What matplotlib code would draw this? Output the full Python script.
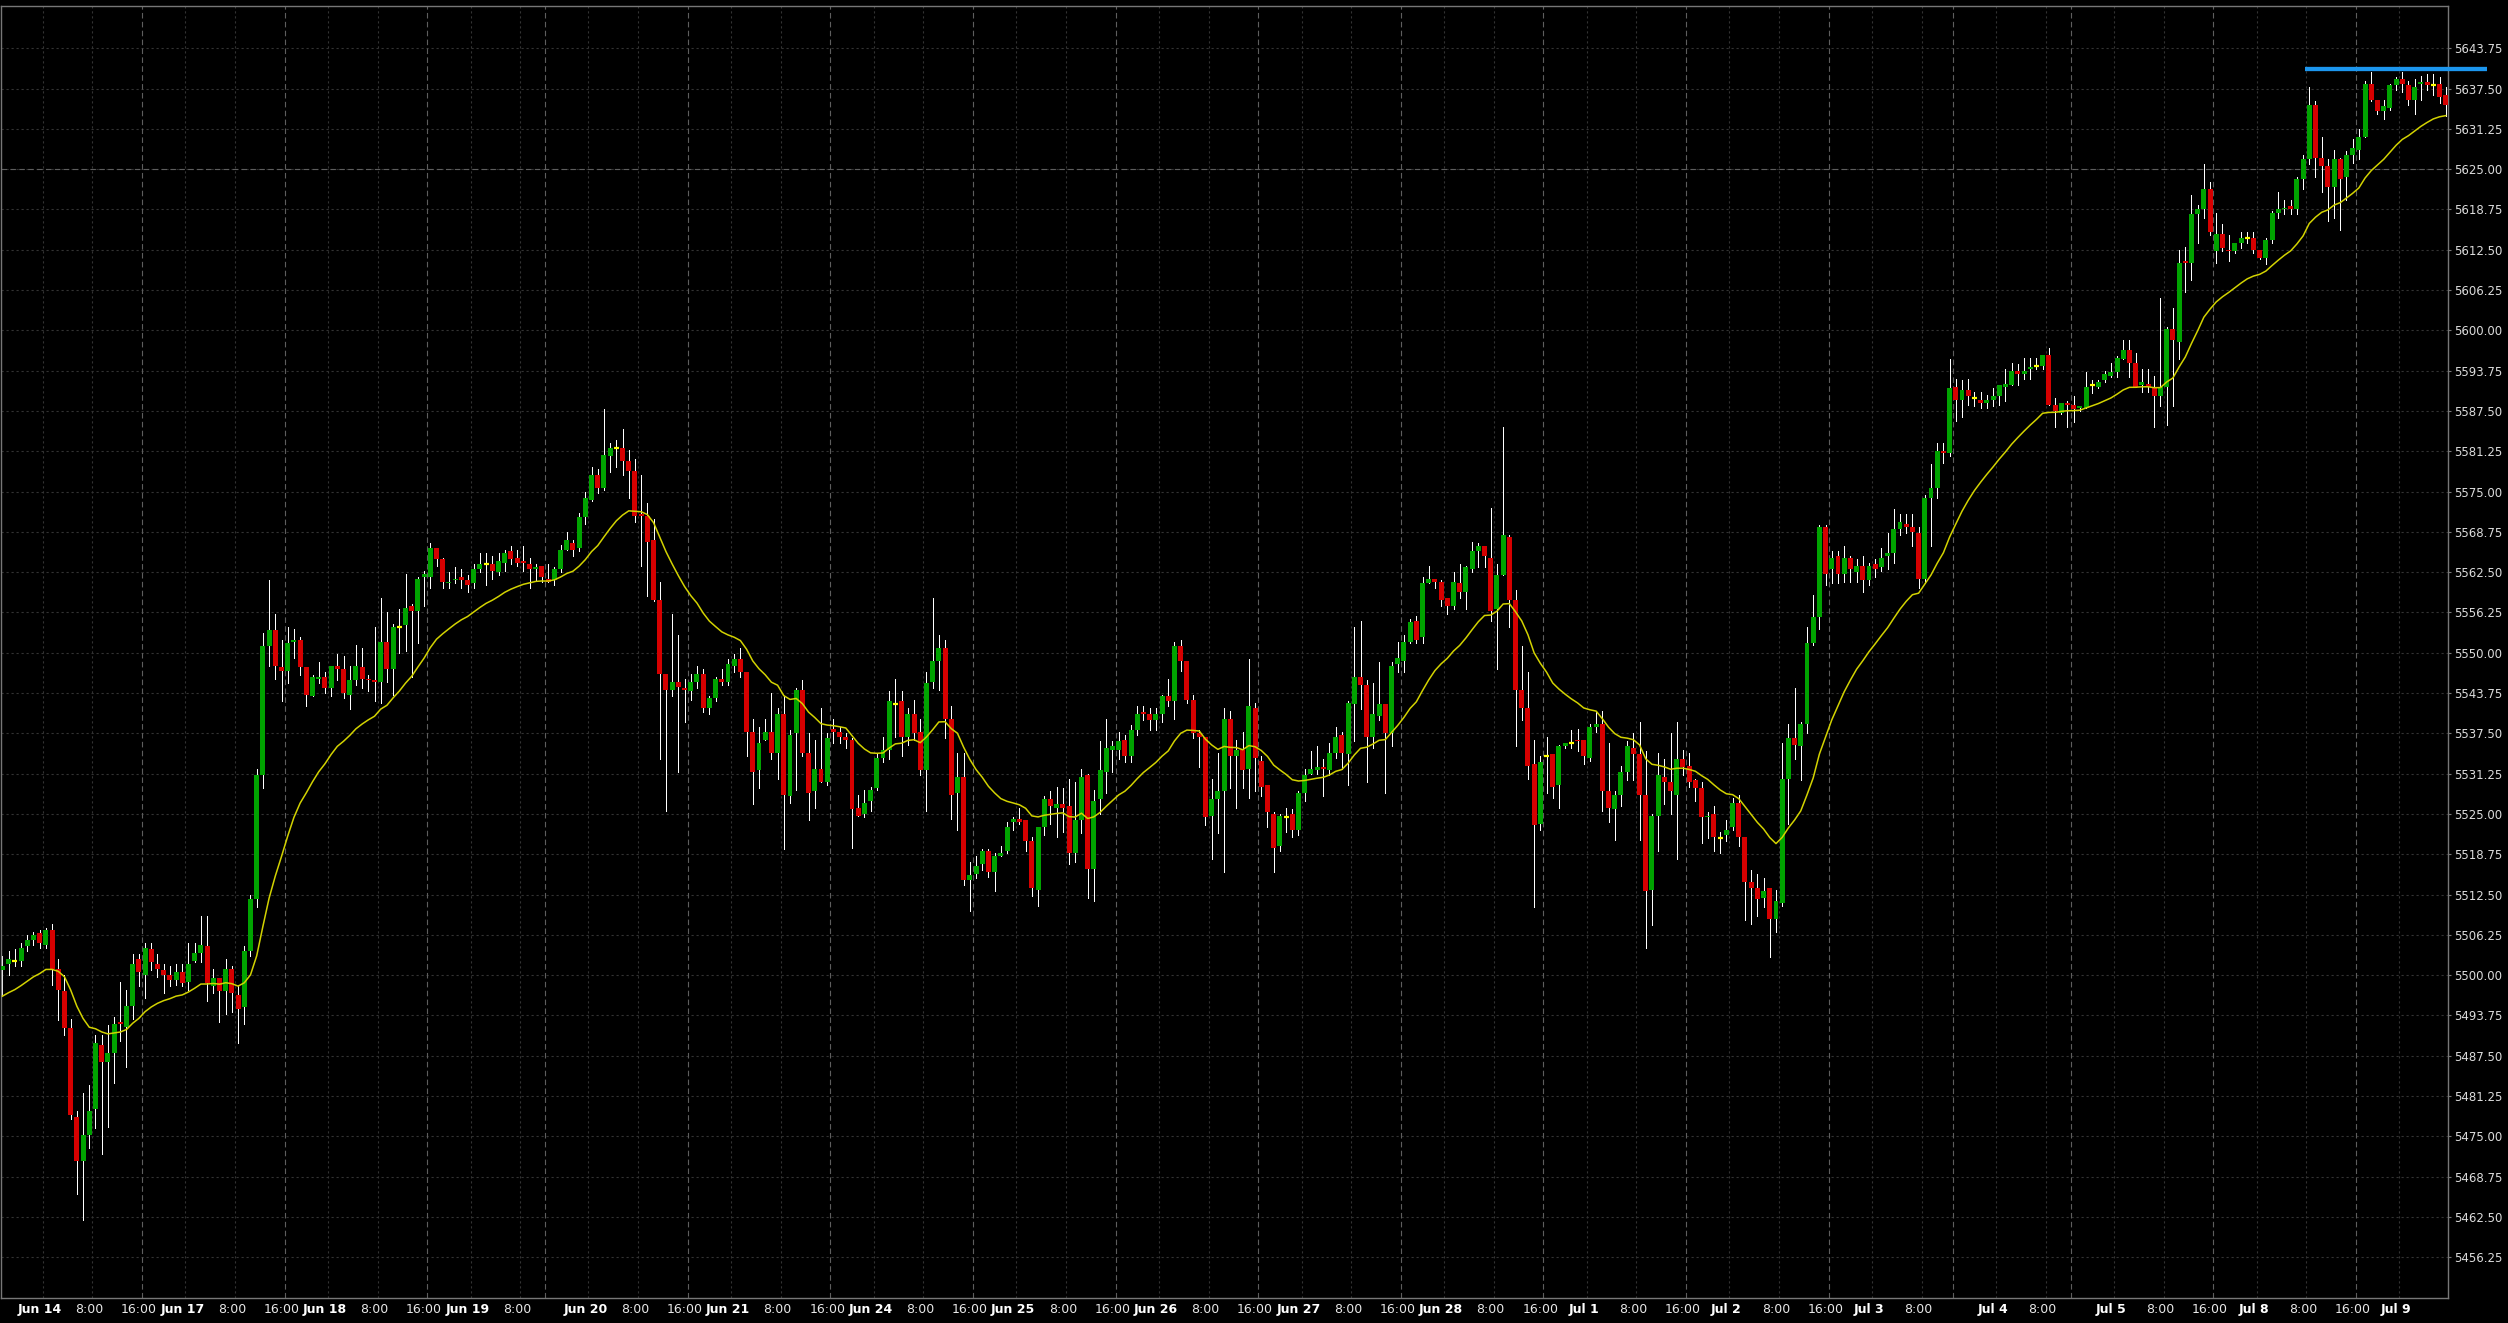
import numpy as np
import pandas as pd
import matplotlib
matplotlib.use("Agg")
import matplotlib.pyplot as plt

# hourly bars, left to right (one value per bar)
OPEN = [
    5500.75, 5501.75, 5502.25, 5502.25, 5504.5, 5505.5, 5506.5, 5504.75, 5507.0, 5501.0,
    5497.5, 5491.75, 5478.0, 5471.25, 5475.25, 5479.25, 5489.25, 5486.5, 5488.0, 5492.75,
    5492.0, 5495.25, 5502.5, 5500.0, 5504.0, 5501.75, 5500.75, 5500.0, 5499.25, 5500.5,
    5499.0, 5502.25, 5503.5, 5504.5, 5498.25, 5499.5, 5497.5, 5501.0, 5497.0, 5495.0,
    5503.75, 5511.75, 5531.0, 5551.0, 5553.5, 5547.75, 5547.25, 5551.75, 5552.0, 5547.75,
    5543.25, 5546.0, 5546.25, 5544.5, 5548.0, 5547.5, 5543.5, 5545.75, 5547.75, 5546.0,
    5545.75, 5545.5, 5551.75, 5547.5, 5554.0, 5554.25, 5557.25, 5556.5, 5561.75, 5561.75,
    5566.25, 5564.5, 5560.75, 5561.25, 5561.75, 5561.25, 5560.75, 5563.0, 5563.75, 5563.75,
    5562.5, 5564.0, 5565.75, 5564.75, 5564.25, 5563.75, 5563.0, 5563.5, 5561.5, 5561.25,
    5563.0, 5566.0, 5567.0, 5566.25, 5571.0, 5573.75, 5577.5, 5575.5, 5580.5, 5581.75,
    5581.75, 5579.75, 5578.25, 5571.5, 5571.25, 5567.5, 5558.25, 5546.75, 5544.25, 5545.5,
    5544.5, 5544.0, 5545.5, 5546.75, 5541.5, 5543.0, 5546.0, 5545.5, 5548.0, 5549.0,
    5547.0, 5537.75, 5531.75, 5536.5, 5537.75, 5534.5, 5540.5, 5527.75, 5537.5, 5544.25,
    5534.5, 5528.5, 5532.0, 5530.0, 5538.25, 5537.75, 5537.0, 5536.5, 5526.0, 5525.0,
    5527.0, 5529.0, 5533.75, 5535.0, 5542.0, 5542.5, 5537.0, 5540.5, 5537.75, 5531.75,
    5545.5, 5548.75, 5550.75, 5539.75, 5528.25, 5530.75, 5514.75, 5515.75, 5517.25, 5519.25,
    5516.0, 5518.5, 5519.25, 5523.75, 5524.25, 5524.0, 5520.75, 5513.25, 5523.0, 5527.25,
    5526.0, 5526.5, 5526.25, 5519.0, 5524.0, 5531.0, 5516.5, 5527.25, 5531.5, 5535.0,
    5535.0, 5536.5, 5534.0, 5538.0, 5540.75, 5540.5, 5539.5, 5540.5, 5543.25, 5542.5,
    5551.0, 5548.75, 5542.75, 5537.5, 5537.0, 5524.75, 5527.25, 5528.5, 5539.75, 5534.0,
    5535.0, 5532.0, 5541.5, 5533.25, 5529.5, 5525.0, 5520.0, 5524.5, 5525.0, 5522.5,
    5528.25, 5531.25, 5531.75, 5532.25, 5531.75, 5534.5, 5537.25, 5534.25, 5542.0, 5546.25,
    5545.0, 5537.0, 5540.25, 5542.0, 5537.5, 5548.25, 5548.75, 5551.75, 5555.0, 5552.5,
    5560.75, 5561.5, 5561.0, 5558.5, 5557.25, 5560.75, 5559.5, 5563.0, 5565.75, 5566.5,
    5564.75, 5556.75, 5562.0, 5568.0, 5558.25, 5544.25, 5541.5, 5532.75, 5523.5, 5534.0,
    5534.25, 5529.5, 5535.5, 5536.0, 5536.5, 5536.5, 5533.75, 5538.5, 5539.0, 5528.5,
    5525.75, 5528.0, 5531.5, 5535.25, 5534.25, 5528.0, 5513.25, 5524.75, 5530.75, 5530.0,
    5528.0, 5533.5, 5532.5, 5530.25, 5529.0, 5524.5, 5525.0, 5521.25, 5521.75, 5523.0,
    5526.75, 5521.5, 5514.5, 5513.5, 5512.0, 5513.5, 5508.75, 5511.25, 5530.5, 5536.75,
    5535.5, 5539.0, 5551.5, 5555.5, 5569.5, 5563.0, 5565.0, 5562.25, 5564.75, 5562.5,
    5563.5, 5561.25, 5563.75, 5563.25, 5565.0, 5565.5, 5569.25, 5570.0, 5569.5, 5568.5,
    5561.5, 5574.0, 5575.5, 5581.25, 5581.0, 5591.25, 5589.25, 5590.75, 5589.5, 5589.25,
    5588.75, 5589.25, 5589.75, 5591.25, 5591.5, 5593.75, 5593.25, 5594.0, 5594.5, 5594.5,
    5596.25, 5588.5, 5587.25, 5588.75, 5588.5, 5588.0, 5588.0, 5591.5, 5591.25, 5592.25,
    5593.0, 5593.5, 5595.5, 5597.0, 5595.0, 5591.5, 5591.75, 5591.25, 5589.75, 5591.25,
    5600.25, 5598.25, 5610.75, 5610.5, 5618.0, 5618.75, 5622.0, 5612.25, 5615.0, 5612.5,
    5612.25, 5613.5, 5614.25, 5614.25, 5612.5, 5611.25, 5614.0, 5618.25, 5618.75, 5619.25,
    5618.75, 5623.5, 5626.5, 5635.0, 5626.75, 5625.5, 5622.25, 5626.5, 5623.75, 5627.25,
    5628.0, 5630.0, 5638.25, 5635.75, 5634.0, 5634.5, 5638.0, 5639.0, 5638.0, 5635.75,
    5638.25, 5638.5, 5638.0, 5638.25, 5636.5,
]
HIGH = [
    5503.0, 5503.75, 5504.0, 5505.0, 5506.25, 5506.75, 5507.0, 5507.25, 5508.0, 5502.5,
    5500.0, 5493.25, 5479.0, 5481.75, 5483.0, 5490.75, 5490.75, 5492.25, 5493.5, 5499.0,
    5497.75, 5503.25, 5503.25, 5505.0, 5505.0, 5503.25, 5501.75, 5501.5, 5501.75, 5501.75,
    5505.0, 5505.0, 5509.25, 5509.25, 5501.0, 5499.5, 5502.5, 5501.5, 5498.5, 5504.5,
    5512.5, 5532.0, 5553.0, 5561.25, 5556.0, 5552.0, 5554.0, 5553.75, 5552.5, 5547.75,
    5546.5, 5548.5, 5547.0, 5548.0, 5549.75, 5549.5, 5548.0, 5551.25, 5550.75, 5546.5,
    5554.0, 5558.5, 5556.25, 5554.5, 5556.75, 5562.25, 5557.5, 5561.75, 5562.75, 5567.0,
    5566.25, 5564.75, 5562.5, 5563.25, 5563.0, 5562.0, 5563.75, 5565.5, 5565.5, 5565.0,
    5565.5, 5566.0, 5566.5, 5566.0, 5566.5, 5564.75, 5563.75, 5563.5, 5563.75, 5563.25,
    5566.75, 5568.75, 5567.5, 5571.75, 5575.0, 5578.75, 5578.5, 5587.75, 5582.5, 5583.0,
    5584.75, 5581.5, 5580.0, 5577.5, 5573.25, 5570.75, 5561.0, 5546.75, 5556.0, 5552.75,
    5546.0, 5546.75, 5548.0, 5547.5, 5543.25, 5546.25, 5547.5, 5549.0, 5549.75, 5550.75,
    5547.0, 5539.75, 5538.5, 5539.75, 5543.75, 5541.5, 5543.25, 5538.0, 5544.5, 5545.75,
    5537.5, 5536.5, 5541.5, 5537.5, 5539.75, 5538.5, 5537.5, 5536.75, 5528.0, 5528.75,
    5529.25, 5534.25, 5537.0, 5544.0, 5546.0, 5544.0, 5541.5, 5542.75, 5539.75, 5547.0,
    5558.5, 5552.75, 5552.0, 5541.75, 5534.5, 5534.5, 5517.5, 5518.5, 5519.5, 5519.5,
    5519.0, 5520.0, 5523.75, 5524.5, 5526.0, 5524.0, 5521.5, 5523.0, 5527.75, 5528.5,
    5529.25, 5529.0, 5530.5, 5530.0, 5532.0, 5531.25, 5528.75, 5536.25, 5539.75, 5536.25,
    5537.75, 5537.25, 5538.75, 5541.75, 5541.75, 5541.5, 5541.5, 5543.5, 5546.0, 5551.75,
    5552.0, 5548.75, 5543.5, 5538.0, 5537.0, 5530.5, 5534.5, 5541.5, 5541.0, 5536.5,
    5537.75, 5549.0, 5542.25, 5534.0, 5529.5, 5525.25, 5525.0, 5526.0, 5525.75, 5528.5,
    5532.0, 5534.75, 5535.5, 5533.5, 5536.0, 5538.5, 5537.75, 5542.5, 5554.0, 5555.0,
    5545.75, 5545.25, 5548.5, 5542.0, 5548.5, 5551.75, 5552.75, 5555.25, 5555.75, 5561.75,
    5563.5, 5561.5, 5561.25, 5558.5, 5562.5, 5563.75, 5563.5, 5567.25, 5567.0, 5566.5,
    5572.5, 5563.75, 5585.0, 5568.25, 5559.75, 5551.0, 5547.0, 5536.5, 5534.0, 5537.0,
    5534.25, 5535.75, 5536.0, 5538.0, 5538.25, 5536.5, 5539.0, 5540.75, 5541.0, 5536.0,
    5528.5, 5532.5, 5536.25, 5537.5, 5539.25, 5534.75, 5525.0, 5534.5, 5533.5, 5537.5,
    5539.25, 5535.0, 5534.5, 5530.5, 5530.0, 5525.25, 5526.25, 5522.25, 5524.0, 5527.5,
    5528.0, 5521.5, 5516.25, 5515.75, 5515.0, 5513.5, 5513.25, 5536.0, 5539.0, 5544.5,
    5539.25, 5554.0, 5559.0, 5569.75, 5569.75, 5565.75, 5565.75, 5566.5, 5565.0, 5564.5,
    5565.0, 5564.0, 5564.5, 5566.25, 5568.5, 5572.25, 5571.5, 5571.5, 5571.5, 5569.5,
    5574.5, 5579.25, 5582.5, 5582.5, 5595.5, 5592.5, 5592.25, 5592.5, 5590.5, 5590.5,
    5590.0, 5591.0, 5591.5, 5594.0, 5595.0, 5594.75, 5595.75, 5595.75, 5595.75, 5596.25,
    5597.25, 5589.5, 5588.75, 5589.0, 5589.75, 5588.25, 5593.5, 5592.25, 5592.25, 5593.75,
    5595.0, 5596.0, 5598.5, 5598.5, 5596.5, 5594.0, 5594.0, 5593.0, 5605.0, 5600.5,
    5603.5, 5612.5, 5613.0, 5621.0, 5619.5, 5625.75, 5623.0, 5618.25, 5616.5, 5614.75,
    5613.5, 5615.25, 5615.25, 5615.25, 5612.5, 5614.25, 5618.5, 5621.5, 5620.25, 5620.25,
    5623.75, 5627.25, 5637.75, 5635.5, 5630.0, 5626.5, 5628.0, 5626.75, 5627.75, 5629.75,
    5631.25, 5638.75, 5640.0, 5635.75, 5635.75, 5638.25, 5639.25, 5640.0, 5638.75, 5639.0,
    5639.5, 5639.75, 5639.75, 5639.25, 5637.75,
]
LOW = [
    5496.75, 5500.0, 5501.5, 5501.5, 5503.75, 5504.75, 5504.25, 5504.25, 5498.5, 5493.0,
    5490.75, 5477.75, 5466.0, 5462.0, 5473.25, 5476.25, 5472.25, 5476.5, 5483.25, 5489.75,
    5485.75, 5493.25, 5498.25, 5496.5, 5500.75, 5499.75, 5497.25, 5498.25, 5498.5, 5498.25,
    5497.75, 5502.0, 5502.0, 5496.0, 5497.25, 5492.75, 5494.0, 5494.25, 5489.5, 5492.5,
    5503.0, 5510.5, 5529.0, 5548.0, 5546.0, 5542.5, 5545.25, 5549.25, 5546.5, 5541.75,
    5543.25, 5545.25, 5543.75, 5543.25, 5545.75, 5543.0, 5541.25, 5545.0, 5544.5, 5544.0,
    5542.5, 5542.25, 5545.5, 5543.5, 5550.0, 5550.25, 5546.25, 5551.5, 5557.25, 5560.0,
    5563.5, 5560.0, 5560.0, 5560.75, 5560.0, 5559.5, 5560.0, 5562.5, 5560.5, 5561.5,
    5562.0, 5562.75, 5563.75, 5563.5, 5562.75, 5560.0, 5561.25, 5561.0, 5561.0, 5560.5,
    5562.5, 5566.0, 5565.0, 5565.75, 5570.0, 5573.5, 5574.75, 5575.25, 5578.0, 5578.75,
    5577.5, 5574.0, 5570.25, 5563.5, 5558.75, 5558.0, 5533.5, 5525.5, 5543.25, 5531.5,
    5539.25, 5542.75, 5544.5, 5540.75, 5540.5, 5542.5, 5545.0, 5545.0, 5547.0, 5546.25,
    5534.0, 5526.5, 5529.0, 5536.5, 5533.5, 5530.5, 5519.5, 5526.75, 5528.75, 5534.0,
    5524.0, 5526.0, 5530.0, 5529.5, 5536.0, 5536.0, 5535.25, 5519.75, 5524.75, 5524.5,
    5525.5, 5528.75, 5533.0, 5533.5, 5537.0, 5534.0, 5535.75, 5536.5, 5531.0, 5525.5,
    5544.5, 5544.25, 5536.75, 5524.25, 5522.5, 5514.0, 5510.0, 5515.0, 5516.25, 5515.25,
    5513.0, 5518.5, 5519.0, 5522.5, 5523.5, 5519.25, 5512.25, 5510.75, 5521.75, 5523.5,
    5521.5, 5522.25, 5517.25, 5517.5, 5522.0, 5512.0, 5511.5, 5525.0, 5528.25, 5531.5,
    5533.5, 5533.0, 5533.0, 5537.25, 5539.5, 5538.0, 5538.0, 5539.25, 5541.75, 5539.75,
    5547.25, 5542.25, 5536.75, 5532.25, 5523.25, 5518.0, 5522.0, 5516.0, 5529.0, 5526.0,
    5529.0, 5527.5, 5528.5, 5527.75, 5523.0, 5516.0, 5519.25, 5522.25, 5521.5, 5521.75,
    5527.0, 5531.25, 5531.25, 5527.75, 5531.0, 5533.75, 5532.0, 5529.5, 5536.25, 5541.25,
    5530.0, 5535.25, 5539.5, 5528.25, 5535.5, 5547.0, 5547.0, 5551.5, 5551.5, 5551.5,
    5560.75, 5560.0, 5557.25, 5556.0, 5556.75, 5558.5, 5556.75, 5562.5, 5563.25, 5563.25,
    5555.0, 5547.5, 5562.0, 5554.0, 5535.5, 5539.5, 5530.5, 5510.5, 5522.5, 5528.25,
    5527.5, 5526.0, 5535.25, 5535.25, 5534.75, 5532.75, 5533.25, 5537.75, 5525.5, 5523.75,
    5521.0, 5526.25, 5530.25, 5530.25, 5521.0, 5504.25, 5507.75, 5519.25, 5526.5, 5525.0,
    5518.0, 5531.0, 5529.25, 5527.0, 5520.5, 5521.25, 5519.25, 5519.0, 5520.75, 5522.5,
    5520.0, 5508.5, 5508.0, 5509.25, 5510.5, 5502.75, 5506.75, 5510.75, 5523.5, 5533.5,
    5530.25, 5537.5, 5551.25, 5553.75, 5560.5, 5560.75, 5560.75, 5561.0, 5561.0, 5561.0,
    5559.5, 5560.5, 5561.75, 5562.75, 5563.0, 5564.0, 5568.25, 5568.5, 5566.5, 5560.0,
    5560.75, 5566.5, 5574.0, 5579.5, 5580.5, 5586.0, 5586.5, 5588.5, 5588.25, 5588.0,
    5588.0, 5588.25, 5588.5, 5589.0, 5591.5, 5591.5, 5592.5, 5592.5, 5594.0, 5594.0,
    5588.5, 5585.0, 5587.0, 5585.0, 5585.75, 5587.5, 5588.0, 5590.25, 5591.0, 5592.0,
    5592.75, 5592.75, 5595.5, 5592.75, 5591.25, 5590.5, 5590.5, 5585.0, 5588.25, 5585.25,
    5588.25, 5595.5, 5606.0, 5607.75, 5613.5, 5617.5, 5614.75, 5610.5, 5612.25, 5610.75,
    5612.0, 5612.75, 5613.5, 5612.0, 5611.0, 5610.25, 5613.5, 5617.5, 5618.0, 5618.0,
    5618.0, 5622.0, 5625.75, 5623.75, 5621.5, 5617.0, 5617.5, 5615.5, 5620.25, 5626.0,
    5626.5, 5630.0, 5635.5, 5633.5, 5632.75, 5634.25, 5637.25, 5637.0, 5635.0, 5633.5,
    5635.75, 5637.25, 5636.5, 5635.25, 5633.25,
]
CLOSE = [
    5501.5, 5502.5, 5502.25, 5504.25, 5505.5, 5506.25, 5505.0, 5507.0, 5501.0, 5497.75,
    5491.75, 5478.25, 5471.25, 5475.25, 5479.0, 5489.5, 5486.5, 5488.0, 5492.5, 5492.5,
    5495.25, 5501.75, 5500.5, 5504.25, 5502.0, 5501.0, 5500.0, 5499.25, 5500.5, 5498.75,
    5501.75, 5503.5, 5504.75, 5498.75, 5499.5, 5497.5, 5501.0, 5497.25, 5494.75, 5503.75,
    5511.75, 5531.0, 5551.0, 5553.5, 5548.0, 5547.25, 5551.5, 5552.0, 5547.75, 5543.5,
    5546.25, 5546.25, 5544.5, 5548.0, 5547.5, 5543.75, 5545.75, 5548.0, 5546.0, 5545.75,
    5545.5, 5551.75, 5547.5, 5554.0, 5554.0, 5557.0, 5556.5, 5561.5, 5562.25, 5566.25,
    5564.5, 5561.0, 5561.0, 5561.5, 5561.25, 5560.5, 5563.0, 5563.75, 5563.75, 5562.75,
    5564.25, 5565.5, 5564.5, 5564.0, 5564.0, 5563.0, 5563.25, 5561.75, 5561.0, 5563.0,
    5566.0, 5567.5, 5566.0, 5571.0, 5574.0, 5577.5, 5575.5, 5580.75, 5581.75, 5581.75,
    5579.75, 5578.25, 5571.25, 5571.25, 5567.25, 5558.25, 5546.75, 5544.25, 5545.5, 5544.75,
    5544.25, 5545.5, 5546.75, 5541.5, 5543.0, 5546.0, 5545.5, 5548.25, 5549.0, 5547.0,
    5537.75, 5531.5, 5536.0, 5537.75, 5534.5, 5540.5, 5528.0, 5537.25, 5544.25, 5534.5,
    5528.25, 5532.0, 5530.0, 5536.75, 5537.75, 5537.0, 5536.5, 5525.75, 5524.75, 5526.75,
    5528.75, 5533.75, 5535.0, 5542.5, 5542.0, 5537.0, 5540.5, 5537.5, 5531.75, 5545.25,
    5548.75, 5550.75, 5539.75, 5528.0, 5530.75, 5514.75, 5515.5, 5517.0, 5519.25, 5516.0,
    5518.5, 5519.0, 5523.0, 5524.25, 5523.75, 5520.75, 5513.5, 5523.0, 5527.25, 5526.25,
    5526.5, 5526.0, 5519.0, 5524.0, 5530.75, 5516.5, 5527.0, 5531.75, 5535.25, 5535.5,
    5536.25, 5534.0, 5538.0, 5540.5, 5540.5, 5539.5, 5540.5, 5543.25, 5542.5, 5551.0,
    5548.75, 5542.75, 5537.5, 5537.0, 5524.5, 5527.25, 5528.5, 5539.75, 5534.0, 5535.0,
    5531.75, 5541.75, 5533.75, 5529.25, 5525.25, 5519.75, 5524.75, 5524.5, 5522.5, 5528.25,
    5531.0, 5532.0, 5532.25, 5532.0, 5534.5, 5537.0, 5534.5, 5542.25, 5546.25, 5545.0,
    5537.0, 5540.5, 5542.0, 5537.5, 5548.0, 5549.25, 5551.75, 5554.75, 5552.0, 5560.75,
    5561.5, 5561.0, 5558.25, 5557.25, 5561.0, 5559.5, 5563.25, 5565.75, 5566.5, 5565.0,
    5556.5, 5562.0, 5568.25, 5558.25, 5544.25, 5541.5, 5532.5, 5523.25, 5533.0, 5534.0,
    5529.25, 5535.5, 5536.0, 5536.0, 5536.25, 5534.0, 5538.5, 5539.0, 5528.5, 5526.0,
    5528.0, 5531.5, 5535.5, 5534.25, 5528.0, 5513.0, 5524.75, 5531.0, 5530.0, 5528.5,
    5533.5, 5532.25, 5530.0, 5529.0, 5524.5, 5524.75, 5521.5, 5521.25, 5522.5, 5526.75,
    5521.5, 5514.5, 5513.5, 5511.75, 5513.0, 5508.75, 5511.5, 5530.5, 5536.75, 5535.75,
    5539.0, 5551.5, 5555.5, 5569.5, 5562.25, 5564.75, 5562.25, 5564.75, 5563.0, 5563.5,
    5561.25, 5563.5, 5563.0, 5564.75, 5565.5, 5569.25, 5570.25, 5569.5, 5568.75, 5561.5,
    5574.0, 5575.5, 5581.25, 5581.0, 5591.0, 5589.25, 5590.75, 5589.75, 5589.5, 5588.75,
    5589.25, 5589.75, 5591.5, 5591.75, 5593.75, 5593.25, 5593.75, 5594.25, 5594.5, 5596.25,
    5588.5, 5587.5, 5588.75, 5588.5, 5587.75, 5588.25, 5591.25, 5591.5, 5592.0, 5593.25,
    5593.5, 5595.75, 5597.0, 5595.0, 5591.25, 5592.0, 5591.25, 5589.75, 5591.25, 5600.25,
    5598.5, 5610.5, 5610.5, 5618.0, 5618.75, 5622.0, 5615.25, 5615.0, 5612.75, 5612.25,
    5613.5, 5614.25, 5614.25, 5612.5, 5611.25, 5614.0, 5618.25, 5618.75, 5619.0, 5618.75,
    5623.5, 5626.5, 5635.0, 5626.75, 5625.5, 5622.25, 5626.5, 5623.5, 5627.25, 5628.25,
    5630.0, 5638.25, 5635.75, 5634.0, 5634.75, 5638.0, 5639.0, 5638.25, 5635.75, 5637.75,
    5638.5, 5638.0, 5638.0, 5636.25, 5635.0,
]

# yellow line: 20 bar EMA of the closes, its value at the first bar
EMA_SPAN = 20
EMA_FIRST = 5496.75

# time axis labels (bar index of the labelled bar)
TICK_BARS = [6, 14, 22, 29, 37, 45, 52, 60, 68, 75, 83, 94, 102, 110, 117, 125, 133,
             140, 148, 156, 163, 171, 179, 186, 194, 202, 209, 217, 225, 232, 240, 248,
             255, 263, 271, 278, 286, 294, 301, 309, 321, 329, 340, 348, 356, 363, 371,
             379, 386]
TICK_TEXT = ["Jun 14", "8:00", "16:00", "Jun 17", "8:00", "16:00", "Jun 18", "8:00", "16:00",
             "Jun 19", "8:00", "Jun 20", "8:00", "16:00", "Jun 21", "8:00", "16:00",
             "Jun 24", "8:00", "16:00", "Jun 25", "8:00", "16:00", "Jun 26", "8:00", "16:00",
             "Jun 27", "8:00", "16:00", "Jun 28", "8:00", "16:00", "Jul 1", "8:00", "16:00",
             "Jul 2", "8:00", "16:00", "Jul 3", "8:00", "Jul 4", "8:00",
             "Jul 5", "8:00", "16:00", "Jul 8", "8:00", "16:00", "Jul 9"]

# last bar of each trading session (dashed separator after it)
SESSION_ENDS = [22, 45, 68, 87, 110, 133, 156, 179, 202, 225, 248, 271, 294, 314, 333, 356, 379]

PRICE_TICKS = [5456.25 + 6.25 * k for k in range(31)]
ROUND_LEVEL = 5625.0

# blue level line at the top right
LEVEL_PRICE = 5640.5
LEVEL_FROM = 371.3
LEVEL_TO = 400.7

GREEN = "#00a300"
RED = "#d60000"
DOJI = "#ffff00"
GRID = "#333333"
GRID_MAJOR = "#5e5e5e"


def main():
    o = np.array(OPEN)
    h = np.array(HIGH)
    l = np.array(LOW)
    c = np.array(CLOSE)
    x = np.arange(len(c))

    ema = pd.Series([EMA_FIRST] + CLOSE[1:]).ewm(span=EMA_SPAN, adjust=False).mean()

    fig = plt.figure(figsize=(25.08, 13.23), dpi=100, facecolor="black")
    ax = fig.add_axes([0.0003, 0.0189, 0.9759, 0.9763])
    ax.set_facecolor("black")

    # grid
    for p in PRICE_TICKS:
        ax.axhline(p, color=GRID, lw=0.8, ls=(0, (2, 2.5)), zorder=0)
    ax.axhline(ROUND_LEVEL, color=GRID_MAJOR, lw=0.8, ls=(0, (5, 3)), zorder=0)
    for b in TICK_BARS:
        if b not in SESSION_ENDS:
            ax.axvline(b + 0.5, color=GRID, lw=0.8, ls=(0, (2, 2.5)), zorder=0)
    for b in SESSION_ENDS:
        ax.axvline(b + 0.5, color=GRID_MAJOR, lw=0.8, ls=(0, (5, 3)), zorder=0)

    # candles: white wicks, coloured bodies on top
    up = c > o
    dn = c < o
    flat = c == o
    ax.vlines(x, l, h, color="white", lw=0.7, antialiased=False, zorder=2)
    ax.bar(x[up], (c - o)[up], bottom=o[up], width=0.8, color=GREEN, lw=0,
           antialiased=False, zorder=3)
    ax.bar(x[dn], (o - c)[dn], bottom=c[dn], width=0.8, color=RED, lw=0,
           antialiased=False, zorder=3)
    ax.hlines(c[flat], x[flat] - 0.4, x[flat] + 0.4, color=DOJI, lw=1.6, zorder=3)

    ax.plot(x, ema, color="#d2d200", lw=1.1, zorder=4)

    ax.plot([LEVEL_FROM, LEVEL_TO], [LEVEL_PRICE, LEVEL_PRICE], color="#1c96ee",
            lw=3.1, solid_capstyle="butt", clip_on=False, zorder=5)

    ax.set_xlim(-0.274, 394.42)
    ax.set_ylim(5449.94, 5650.25)

    for s in ax.spines.values():
        s.set_color("#777777")
        s.set_linewidth(1.0)

    ax.yaxis.tick_right()
    ax.set_yticks(PRICE_TICKS)
    ax.set_yticklabels([f"{p:.2f}" for p in PRICE_TICKS])
    ax.tick_params(axis="y", length=2, pad=2, color="#777777",
                   labelcolor="#dcdcdc", labelsize=8.5)

    ax.set_xticks(TICK_BARS)
    ax.set_xticklabels(TICK_TEXT)
    ax.tick_params(axis="x", length=0, pad=3.5, labelcolor="#e8e8e8", labelsize=9)
    for lbl, txt in zip(ax.get_xticklabels(), TICK_TEXT):
        if not txt[0].isdigit():
            lbl.set_fontweight("bold")
            lbl.set_color("white")

    fig.savefig("out.png", dpi=100, facecolor=fig.get_facecolor())


if __name__ == "__main__":
    main()
